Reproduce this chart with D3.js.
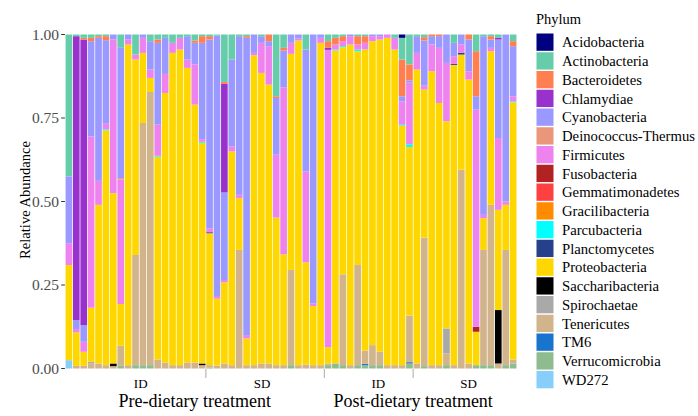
<!DOCTYPE html>
<html>
<head>
<meta charset="utf-8">
<script src="https://cdn.jsdelivr.net/npm/d3@7"></script>
<style>
  body { margin: 0; background: #fff; }
  svg { display: block; }
  svg text { font-family: "Liberation Serif", "Times New Roman", "DejaVu Serif", serif; }
</style>
</head>
<body>
<svg id="chart" width="698" height="416"></svg>
<script>
// samples, in plotting order
const samples = d3.range(1, 62).map(i => "S" + i);
const groups = ["ID", "SD", "ID", "SD"];
const groupSizes = [19, 16, 12, 14];
const treatments = ["Pre-dietary treatment", "Post-dietary treatment"];
const yTicks = [0, 0.25, 0.5, 0.75, 1];

const phyla = ["Acidobacteria", "Actinobacteria", "Bacteroidetes", "Chlamydiae", "Cyanobacteria",
  "Deinococcus-Thermus", "Firmicutes", "Fusobacteria", "Gemmatimonadetes", "Gracilibacteria",
  "Parcubacteria", "Planctomycetes", "Proteobacteria", "Saccharibacteria", "Spirochaetae",
  "Tenericutes", "TM6", "Verrucomicrobia", "WD272"];
const phylaColors = ["#000080", "#66CDAA", "#FF7F50", "#9932CC", "#9999FF",
  "#E9967A", "#EE82EE", "#B22222", "#FF4040", "#FF8C00",
  "#00FFFF", "#27408B", "#FFD700", "#000000", "#A9A9A9",
  "#D2B48C", "#1874CD", "#8FBC8F", "#87CEFA"];

// relative abundance per sample
const acidobacteria = [0,0,0,0,0,0,0,0,0,0, 0,0,0,0,0,0,0,0,0,0, 0,0,0,0,0,0,0,0,0,0, 0,0,0,0,0,0,0,0,0,0, 0,0,0,0,0,.01,0,0,0,0, 0,0,0,0,0,0,0,0,0,0, 0];
const actinobacteria = [.425,.005,.01,.01,.005,.005,0,.038,0,.06, 0,.02,.015,.01,.025,.01,.005,.018,.005,.005, .003,.142,.075,.005,.005,0,.005,0,.185,.04, 0,0,.045,0,0,.02,.01,.005,0,.005, .005,0,0,0,.01,.065,.09,.005,.008,0, 0,0,.025,0,0,.05,.005,.005,.01,0, .02];
const bacteroidetes = [0,0,.005,.01,.005,.012,0,0,0,0, 0,0,.01,0,0,0,0,.007,.02,.01, 0,.006,0,0,.005,0,0,.02,.005,.008, 0,0,0,0,0,.02,.02,.015,0,.025, .02,0,0,0,0,.11,.048,0,.01,.005, .005,0,0,0,.015,.135,0,.01,0,0, .015];
const chlamydiae = [0,.85,.855,0,0,0,0,0,0,0, 0,0,0,0,0,0,0,0,0,0, 0,.325,0,0,0,0,0,0,0,0, 0,0,0,0,0,.006,0,0,0,0, 0,0,0,0,0,0,0,0,0,0, 0,0,0,0,0,0,0,0,.005,0, 0];
const cyanobacteria = [.20,.027,.05,.285,.428,.25,.015,.392,.015,0, .01,.085,.245,.108,0,0,.07,.065,.29,.565, .78,.262,.26,.475,.89,.055,.02,.015,.17,.11, .025,.012,.365,.805,.01,0,0,0,.005,0, 0,.005,.005,0,0,.015,.007,.05,.135,.025, .035,.085,.04,.03,.095,.04,.535,.025,.295,.5, .15];
const deinococcus = [0,0,0,0,0,0,0,.004,0,0, 0,0,0,0,0,0,0,0,0,0, 0,0,0,0,0,0,0,0,0,0, 0,0,0,0,0,0,0,0,0,0, 0,0,0,0,0,0,0,0,0,0, 0,0,0,0,0,0,0,0,0,0, 0];
const firmicutes = [.065,.01,.03,.513,.072,.017,.46,.373,.015,.015, .045,.025,.093,.057,.03,.035,.025,.12,.008,.012, .008,.007,.015,.01,.01,.007,.09,.115,.188,.50, .033,.006,.272,.008,.015,.89,.015,.015,.025,.015, .02,.015,.01,.01,.035,.07,.185,.05,.012,.08, .165,.175,.023,.025,.025,.65,.01,.01,.215,.01, .015];
const fusobacteria = [0,0,0,0,0,0,0,0,0,0, 0,0,0,0,0,0,0,0,0,0, 0,0,0,0,0,0,0,0,0,0, 0,0,0,0,0,0,0,0,0,0, 0,0,0,0,0,0,0,0,0,0, 0,0,0,0,0,.015,0,0,0,0, 0];
const gemmatimonadetes = [0,0,0,0,0,0,0,0,0,0, 0,0,0,0,0,0,0,0,0,0, 0,0,0,0,0,0,0,0,0,0, 0,0,0,0,0,0,0,0,0,0, 0,0,0,0,0,0,0,0,0,0, 0,0,0,0,0,0,0,0,0,0, 0];
const gracilibacteria = [0,0,0,0,0,0,0,0,0,0, 0,0,0,0,0,0,0,0,0,0, 0,0,0,0,0,0,0,0,0,0, 0,0,0,0,0,0,0,0,0,0, 0,0,0,0,0,0,0,0,0,0, 0,0,0,0,0,0,0,0,0,0, 0];
const parcubacteria = [0,0,0,0,0,.003,0,0,0,0, 0,0,.003,0,0,0,0,0,.003,0, 0,0,0,0,0,0,0,0,0,0, 0,0,0,0,0,0,.003,.003,0,.005, 0,0,0,0,0,.003,.008,0,0,0, 0,0,0,0,0,0,0,0,0,0, .003];
const planctomycetes = [0,0,0,0,0,0,0,0,0,0, 0,0,0,0,0,0,0,0,0,.003, 0,0,0,0,0,0,0,0,0,0, 0,0,0,0,0,0,0,0,0,0, 0,0,0,0,0,0,0,0,0,0, 0,0,.003,.005,0,0,0,0,0,0, 0];
const proteobacteria = [.285,.10,.042,.162,.475,.703,.51,.125,.96,.585, .21,.042,.607,.807,.935,.945,.882,.772,.664,.395, .20,.243,.64,.155,.08,.928,.87,.835,.442,.332, .647,.972,.306,.177,.965,.049,.937,.68,.96,.64, .905,.91,.935,.98,.945,.717,.507,.88,.443,.88, .785,.62,.899,.345,.85,.10,.095,.46,.30,.135, .77];
const saccharibacteria = [0,0,0,0,0,0,.008,0,0,0, 0,0,0,0,0,0,0,0,.005,0, 0,0,0,0,0,0,0,0,0,0, 0,0,0,0,0,0,0,0,0,0, 0,0,0,0,0,0,0,0,0,0, 0,0,0,0,0,0,0,0,.16,0, 0];
const spirochaetae = [0,0,0,.005,0,0,0,0,0,0, 0,0,0,0,0,0,0,0,0,0, 0,0,0,0,0,0,0,0,0,0, 0,0,0,0,0,0,0,0,0,0, 0,0,0,0,0,0,0,0,0,0, 0,.075,0,0,0,0,0,0,0,0, 0];
const tenericutes = [0,.008,.008,.015,.015,.01,.007,.06,.01,.33, .725,.818,.027,.018,.01,.01,.018,.018,.01,.007, .009,.015,.01,.355,.01,.01,.015,.015,.01,.01, .285,.01,.012,.01,.01,.005,0,.272,.01,.30, .04,.06,.04,.01,.01,.01,.14,.015,.385,.01, .01,.035,.01,.595,.015,0,.345,.48,.015,.345, .012];
const tm6 = [0,0,0,0,0,0,0,0,0,0, 0,0,0,0,0,0,0,0,0,0, 0,0,0,0,0,0,0,0,0,0, 0,0,0,0,0,0,0,0,0,0, .004,0,0,0,0,0,.004,0,0,0, 0,0,0,0,0,0,0,0,0,0, 0];
const verrucomicrobia = [0,0,0,0,0,0,0,.008,0,.01, .01,.01,0,0,0,0,0,0,0,.003, 0,0,0,0,0,0,0,0,0,0, .01,0,0,0,0,.01,.015,.01,0,.01, .01,.01,.01,0,0,0,.015,0,.007,0, 0,.01,0,0,0,.01,.01,.01,0,.01, .015];
const wd272 = [.025,0,0,0,0,0,0,0,0,0, 0,0,0,0,0,0,0,0,0,0, 0,0,0,0,0,0,0,0,0,0, 0,0,0,0,0,0,0,0,0,0, 0,0,0,0,0,0,0,0,0,0, 0,0,0,0,0,0,0,0,0,0, 0];

const series = [acidobacteria, actinobacteria, bacteroidetes, chlamydiae, cyanobacteria,
  deinococcus, firmicutes, fusobacteria, gemmatimonadetes, gracilibacteria,
  parcubacteria, planctomycetes, proteobacteria, saccharibacteria, spirochaetae,
  tenericutes, tm6, verrucomicrobia, wd272];

// table for d3.stack, each sample scaled to a total of 1
const table = samples.map((s, i) => {
  const row = { sample: s };
  const total = d3.sum(series, arr => arr[i]);
  phyla.forEach((p, k) => { row[p] = series[k][i] / total; });
  return row;
});

const FONT = '"Liberation Serif", "Times New Roman", "DejaVu Serif", serif';
const svg = d3.select("#chart").attr("font-family", FONT);

const x = d3.scaleBand()
  .domain(samples)
  .range([65.2, 516.8])
  .paddingInner(0.1)
  .paddingOuter(0.05);

const y = d3.scaleLinear()
  .domain([0, 1])
  .range([368.5, 34.5]);

const color = d3.scaleOrdinal().domain(phyla).range(phylaColors);

// first legend entry sits on top of each bar
const stacked = d3.stack().keys(phyla.slice().reverse())(table);

svg.append("g")
  .selectAll("g")
  .data(stacked)
  .join("g")
  .attr("fill", d => color(d.key))
  .selectAll("rect")
  .data(d => d.filter(v => v[1] - v[0] > 0))
  .join("rect")
  .attr("x", d => x(d.data.sample))
  .attr("width", x.bandwidth())
  .attr("y", d => y(d[1]))
  .attr("height", d => y(d[0]) - y(d[1]));

// y axis
const yAxis = svg.append("g").attr("class", "y-axis");
yAxis.selectAll("line")
  .data(yTicks)
  .join("line")
  .attr("x1", 61.2).attr("x2", 64.9)
  .attr("y1", d => y(d)).attr("y2", d => y(d))
  .attr("stroke", "#333").attr("stroke-width", 1);
yAxis.selectAll("text")
  .data(yTicks)
  .join("text")
  .attr("x", 59)
  .attr("y", d => y(d))
  .attr("dy", "0.35em")
  .attr("text-anchor", "end")
  .attr("font-family", FONT)
  .attr("font-size", 15.5)
  .attr("fill", "#4d4d4d")
  .text(d => d3.format(".2f")(d));

svg.append("text")
  .attr("transform", "translate(30,200) rotate(-90)")
  .attr("text-anchor", "middle")
  .attr("font-family", FONT)
  .attr("font-size", 14.6)
  .attr("fill", "#000")
  .text("Relative Abundance");

// x axis: group separators and labels
const step = x.step();
const starts = d3.cumsum([0].concat(groupSizes)).slice(0, groupSizes.length);
const edge = i => x(samples[i]) - step * x.paddingInner() / 2;

svg.append("g")
  .selectAll("line")
  .data(starts.slice(1))
  .join("line")
  .attr("x1", d => edge(d)).attr("x2", d => edge(d))
  .attr("y1", 369).attr("y2", 378)
  .attr("stroke", "#aaa").attr("stroke-width", 1);

const labelAt = [9.7, 26.1, 41.8, 54];
svg.append("g")
  .selectAll("text")
  .data(groups)
  .join("text")
  .attr("x", (d, i) => x(samples[0]) + step * labelAt[i] + x.bandwidth() / 2)
  .attr("y", 388)
  .attr("text-anchor", "middle")
  .attr("font-family", FONT)
  .attr("font-size", 13)
  .attr("fill", "#000")
  .text(d => d);

const treatX = [(edge(0) + edge(starts[2])) / 2, edge(starts[3])];
svg.append("g")
  .selectAll("text")
  .data(treatments)
  .join("text")
  .attr("x", (d, i) => treatX[i])
  .attr("y", 407)
  .attr("text-anchor", "middle")
  .attr("font-family", FONT)
  .attr("font-size", 18)
  .attr("fill", "#000")
  .text(d => d);

// legend
const legend = svg.append("g").attr("transform", "translate(536,0)");
legend.append("text")
  .attr("x", 0).attr("y", 24)
  .attr("font-family", FONT)
  .attr("font-size", 14.5)
  .text("Phylum");
const item = legend.selectAll("g.item")
  .data(phyla)
  .join("g")
  .attr("class", "item")
  .attr("transform", (d, i) => `translate(0,${33.5 + 18.75 * i})`);
item.append("rect")
  .attr("x", 0.5).attr("width", 17).attr("height", 17.3)
  .attr("fill", d => color(d));
item.append("text")
  .attr("x", 26).attr("y", 8.8)
  .attr("dy", "0.35em")
  .attr("font-family", FONT)
  .attr("font-size", 14.7)
  .text(d => d);
</script>
</body>
</html>
